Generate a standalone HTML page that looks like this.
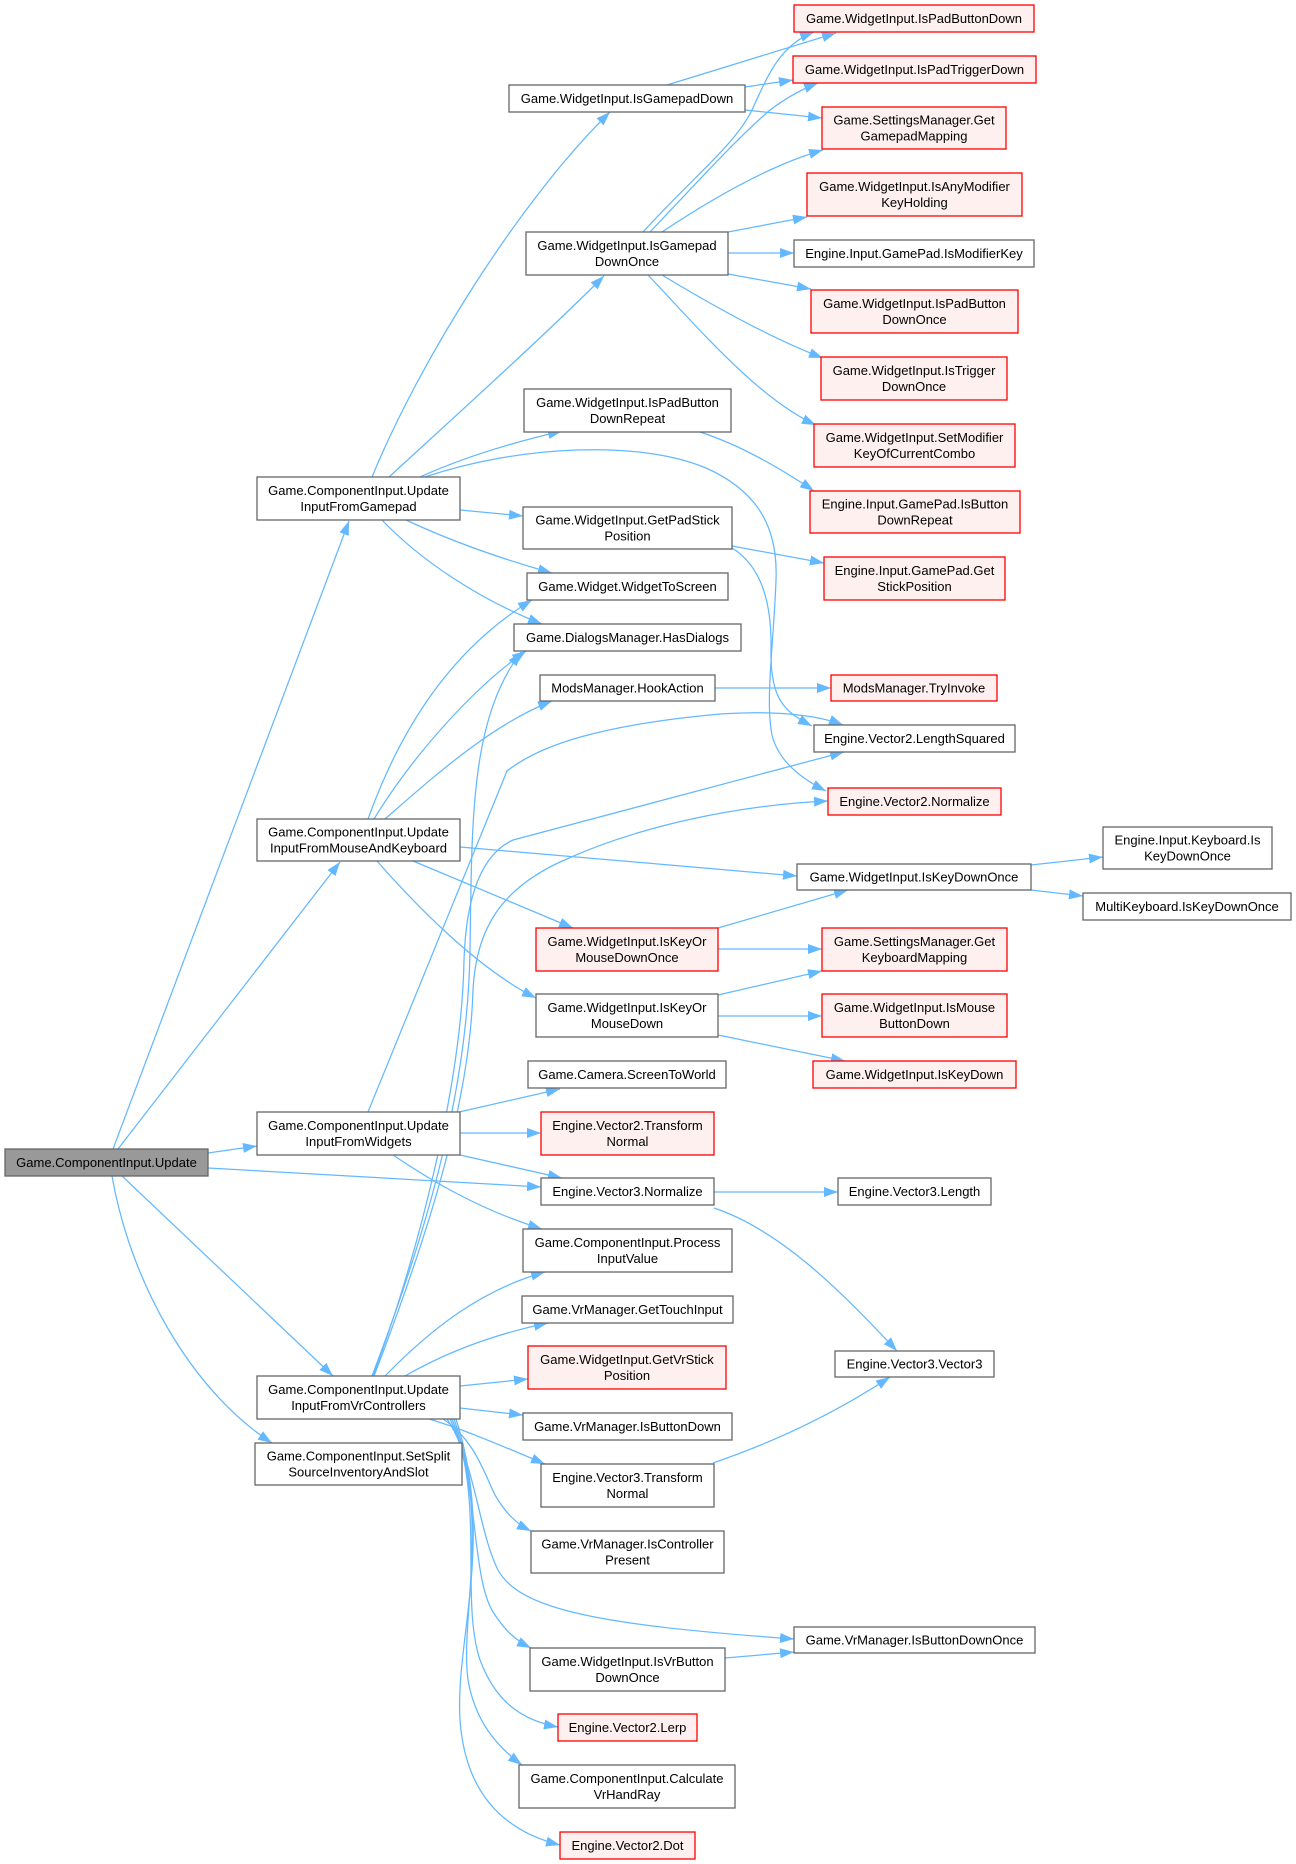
<!DOCTYPE html>
<html><head><meta charset="utf-8"><style>
html,body{margin:0;padding:0;background:#fff;}
svg{display:block;}
text{font-family:"Liberation Sans",Arial,sans-serif;font-size:13px;fill:#000;text-anchor:middle;}
.n{fill:#fff;stroke:#666;stroke-width:1.3;}
.r{fill:#fff0f0;stroke:#ff0000;stroke-width:1.3;}
.g{fill:#999;stroke:#666;stroke-width:1.3;}
.e{fill:none;stroke:#63b8ff;stroke-width:1.25;marker-end:url(#a);}
</style></head><body>
<svg width="1296" height="1864" viewBox="0 0 1296 1864" xmlns="http://www.w3.org/2000/svg">
<defs><marker id="a" markerUnits="userSpaceOnUse" markerWidth="15" markerHeight="11" refX="14" refY="5" orient="auto"><path d="M0,0 L14,5 L0,10 z" fill="#63b8ff"/></marker></defs>
<rect width="1296" height="1864" fill="#fff"/>
<g>
<path class="e" d="M113,1149 L349,521"/>
<path class="e" d="M118,1149 L340,862"/>
<path class="e" d="M208,1153 L257,1146"/>
<path class="e" d="M208,1168 L541,1187"/>
<path class="e" d="M122,1176 L333,1376"/>
<path class="e" d="M112,1176 C130,1280 190,1390 272,1443"/>
<path class="e" d="M372,477 C420,360 520,200 610,112"/>
<path class="e" d="M389,477 C440,430 540,340 604,276"/>
<path class="e" d="M420,477 Q480,450 562,431"/>
<path class="e" d="M425,477 C520,445 640,440 706,468 C760,492 778,530 776,580 C774,640 765,700 772,735 C778,760 800,778 826,791"/>
<path class="e" d="M460,510 L523,516"/>
<path class="e" d="M406,520 Q470,550 552,573"/>
<path class="e" d="M382,520 C420,560 480,600 542,624"/>
<path class="e" d="M368,819 C400,730 450,650 532,600"/>
<path class="e" d="M374,819 C410,760 470,690 526,651"/>
<path class="e" d="M385,819 C430,780 490,725 552,701"/>
<path class="e" d="M460,847 L797,876"/>
<path class="e" d="M413,861 L573,928"/>
<path class="e" d="M377,861 C420,910 480,970 536,998"/>
<path class="e" d="M368,1112 L507,771 C540,745 600,725 720,714 C780,710 820,716 843,725"/>
<path class="e" d="M459,1112 L560,1089"/>
<path class="e" d="M460,1133 L541,1133"/>
<path class="e" d="M460,1155 L562,1178"/>
<path class="e" d="M393,1155 C430,1180 480,1210 542,1229"/>
<path class="e" d="M372,1376 C420,1250 468,1100 470,950 C472,820 470,720 521,652"/>
<path class="e" d="M373,1376 C420,1250 462,1080 464,960 C466,900 480,855 513,840 L844,752"/>
<path class="e" d="M374,1376 C430,1230 470,1100 473,990 C476,930 500,890 560,862 C640,825 740,805 828,801"/>
<path class="e" d="M385,1376 C430,1330 480,1290 545,1272"/>
<path class="e" d="M405,1376 C450,1350 500,1333 548,1323"/>
<path class="e" d="M460,1386 L528,1379"/>
<path class="e" d="M460,1408 L523,1415"/>
<path class="e" d="M429,1419 C460,1428 500,1445 545,1464"/>
<path class="e" d="M443,1419 C475,1440 485,1475 495,1495 C505,1512 515,1523 531,1531"/>
<path class="e" d="M447,1419 C475,1460 478,1530 498,1570 C520,1610 600,1625 794,1639"/>
<path class="e" d="M450,1419 C480,1480 470,1580 495,1615 C505,1630 515,1640 531,1648"/>
<path class="e" d="M452,1419 C485,1500 460,1600 480,1660 C495,1700 520,1720 558,1727"/>
<path class="e" d="M454,1419 C490,1520 460,1620 468,1680 C475,1720 495,1745 522,1765"/>
<path class="e" d="M456,1419 C495,1540 455,1640 460,1720 C465,1790 500,1830 560,1845"/>
<path class="e" d="M667,85 L836,33"/>
<path class="e" d="M745,87 L793,80"/>
<path class="e" d="M745,110 L822,118"/>
<path class="e" d="M643,232 C690,180 735,145 752,110 C768,75 780,45 814,32"/>
<path class="e" d="M650,232 C690,190 735,140 770,110 C790,95 805,88 818,83"/>
<path class="e" d="M662,232 C710,200 770,165 823,150"/>
<path class="e" d="M728,232 L807,217"/>
<path class="e" d="M728,253 L794,253"/>
<path class="e" d="M728,274 L811,289"/>
<path class="e" d="M662,275 C720,310 775,340 823,358"/>
<path class="e" d="M648,275 C700,330 760,400 816,425"/>
<path class="e" d="M700,432 C740,445 780,468 814,491"/>
<path class="e" d="M732,546 L824,563"/>
<path class="e" d="M732,548 C760,565 772,600 771,650 C770,700 785,712 812,726"/>
<path class="e" d="M715,688 L831,688"/>
<path class="e" d="M718,928 L848,890"/>
<path class="e" d="M718,949 L822,949"/>
<path class="e" d="M718,995 L822,971"/>
<path class="e" d="M718,1016 L822,1016"/>
<path class="e" d="M718,1035 L845,1061"/>
<path class="e" d="M1031,865 L1103,857"/>
<path class="e" d="M1031,890 L1083,896"/>
<path class="e" d="M714,1192 L838,1192"/>
<path class="e" d="M714,1208 C780,1230 840,1290 897,1351"/>
<path class="e" d="M713,1463 C780,1440 840,1410 890,1377"/>
<path class="e" d="M725,1658 L794,1652"/>
</g>
<g>
<rect class="g" x="5" y="1149" width="203" height="27"/><text x="106.5" y="1167">Game.ComponentInput.Update</text>
<rect class="n" x="257" y="477" width="203" height="43"/><text x="358.5" y="495">Game.ComponentInput.Update</text><text x="358.5" y="511">InputFromGamepad</text>
<rect class="n" x="257" y="819" width="203" height="42"/><text x="358.5" y="836.5">Game.ComponentInput.Update</text><text x="358.5" y="852.5">InputFromMouseAndKeyboard</text>
<rect class="n" x="257" y="1112" width="203" height="43"/><text x="358.5" y="1130">Game.ComponentInput.Update</text><text x="358.5" y="1146">InputFromWidgets</text>
<rect class="n" x="257" y="1376" width="203" height="43"/><text x="358.5" y="1394">Game.ComponentInput.Update</text><text x="358.5" y="1410">InputFromVrControllers</text>
<rect class="n" x="255" y="1443" width="207" height="42"/><text x="358.5" y="1460.5">Game.ComponentInput.SetSplit</text><text x="358.5" y="1476.5">SourceInventoryAndSlot</text>
<rect class="n" x="509" y="85" width="236" height="27"/><text x="627" y="103">Game.WidgetInput.IsGamepadDown</text>
<rect class="n" x="526" y="232" width="202" height="43"/><text x="627" y="250">Game.WidgetInput.IsGamepad</text><text x="627" y="266">DownOnce</text>
<rect class="n" x="524" y="389" width="207" height="43"/><text x="627.5" y="407">Game.WidgetInput.IsPadButton</text><text x="627.5" y="423">DownRepeat</text>
<rect class="n" x="523" y="507" width="209" height="42"/><text x="627.5" y="524.5">Game.WidgetInput.GetPadStick</text><text x="627.5" y="540.5">Position</text>
<rect class="n" x="527" y="573" width="201" height="27"/><text x="627.5" y="591">Game.Widget.WidgetToScreen</text>
<rect class="n" x="514" y="624" width="227" height="27"/><text x="627.5" y="642">Game.DialogsManager.HasDialogs</text>
<rect class="n" x="540" y="675" width="175" height="26"/><text x="627.5" y="692.5">ModsManager.HookAction</text>
<rect class="r" x="536" y="928" width="182" height="43"/><text x="627" y="946">Game.WidgetInput.IsKeyOr</text><text x="627" y="962">MouseDownOnce</text>
<rect class="n" x="536" y="994" width="182" height="43"/><text x="627" y="1012">Game.WidgetInput.IsKeyOr</text><text x="627" y="1028">MouseDown</text>
<rect class="n" x="528" y="1061" width="198" height="27"/><text x="627" y="1079">Game.Camera.ScreenToWorld</text>
<rect class="r" x="541" y="1112" width="173" height="43"/><text x="627.5" y="1130">Engine.Vector2.Transform</text><text x="627.5" y="1146">Normal</text>
<rect class="n" x="541" y="1178" width="173" height="27"/><text x="627.5" y="1196">Engine.Vector3.Normalize</text>
<rect class="n" x="523" y="1229" width="209" height="43"/><text x="627.5" y="1247">Game.ComponentInput.Process</text><text x="627.5" y="1263">InputValue</text>
<rect class="n" x="522" y="1296" width="211" height="27"/><text x="627.5" y="1314">Game.VrManager.GetTouchInput</text>
<rect class="r" x="528" y="1346" width="198" height="43"/><text x="627" y="1364">Game.WidgetInput.GetVrStick</text><text x="627" y="1380">Position</text>
<rect class="n" x="523" y="1413" width="209" height="27"/><text x="627.5" y="1431">Game.VrManager.IsButtonDown</text>
<rect class="n" x="541" y="1464" width="173" height="43"/><text x="627.5" y="1482">Engine.Vector3.Transform</text><text x="627.5" y="1498">Normal</text>
<rect class="n" x="531" y="1531" width="193" height="42"/><text x="627.5" y="1548.5">Game.VrManager.IsController</text><text x="627.5" y="1564.5">Present</text>
<rect class="n" x="530" y="1648" width="195" height="43"/><text x="627.5" y="1666">Game.WidgetInput.IsVrButton</text><text x="627.5" y="1682">DownOnce</text>
<rect class="r" x="558" y="1714" width="139" height="27"/><text x="627.5" y="1732">Engine.Vector2.Lerp</text>
<rect class="n" x="519" y="1765" width="216" height="43"/><text x="627" y="1783">Game.ComponentInput.Calculate</text><text x="627" y="1799">VrHandRay</text>
<rect class="r" x="560" y="1832" width="135" height="27"/><text x="627.5" y="1850">Engine.Vector2.Dot</text>
<rect class="r" x="794" y="5" width="240" height="27"/><text x="914" y="23">Game.WidgetInput.IsPadButtonDown</text>
<rect class="r" x="793" y="56" width="243" height="27"/><text x="914.5" y="74">Game.WidgetInput.IsPadTriggerDown</text>
<rect class="r" x="822" y="107" width="184" height="42"/><text x="914" y="124.5">Game.SettingsManager.Get</text><text x="914" y="140.5">GamepadMapping</text>
<rect class="r" x="807" y="173" width="215" height="43"/><text x="914.5" y="191">Game.WidgetInput.IsAnyModifier</text><text x="914.5" y="207">KeyHolding</text>
<rect class="n" x="794" y="240" width="240" height="27"/><text x="914" y="258">Engine.Input.GamePad.IsModifierKey</text>
<rect class="r" x="811" y="290" width="207" height="43"/><text x="914.5" y="308">Game.WidgetInput.IsPadButton</text><text x="914.5" y="324">DownOnce</text>
<rect class="r" x="821" y="357" width="186" height="43"/><text x="914" y="375">Game.WidgetInput.IsTrigger</text><text x="914" y="391">DownOnce</text>
<rect class="r" x="814" y="424" width="201" height="43"/><text x="914.5" y="442">Game.WidgetInput.SetModifier</text><text x="914.5" y="458">KeyOfCurrentCombo</text>
<rect class="r" x="810" y="491" width="210" height="42"/><text x="915" y="508.5">Engine.Input.GamePad.IsButton</text><text x="915" y="524.5">DownRepeat</text>
<rect class="r" x="824" y="557" width="181" height="43"/><text x="914.5" y="575">Engine.Input.GamePad.Get</text><text x="914.5" y="591">StickPosition</text>
<rect class="r" x="831" y="675" width="166" height="26"/><text x="914" y="692.5">ModsManager.TryInvoke</text>
<rect class="n" x="814" y="725" width="201" height="27"/><text x="914.5" y="743">Engine.Vector2.LengthSquared</text>
<rect class="r" x="828" y="788" width="173" height="27"/><text x="914.5" y="806">Engine.Vector2.Normalize</text>
<rect class="n" x="797" y="864" width="234" height="26"/><text x="914" y="881.5">Game.WidgetInput.IsKeyDownOnce</text>
<rect class="r" x="822" y="928" width="185" height="43"/><text x="914.5" y="946">Game.SettingsManager.Get</text><text x="914.5" y="962">KeyboardMapping</text>
<rect class="r" x="822" y="994" width="185" height="43"/><text x="914.5" y="1012">Game.WidgetInput.IsMouse</text><text x="914.5" y="1028">ButtonDown</text>
<rect class="r" x="813" y="1061" width="203" height="27"/><text x="914.5" y="1079">Game.WidgetInput.IsKeyDown</text>
<rect class="n" x="838" y="1178" width="153" height="27"/><text x="914.5" y="1196">Engine.Vector3.Length</text>
<rect class="n" x="835" y="1351" width="159" height="26"/><text x="914.5" y="1368.5">Engine.Vector3.Vector3</text>
<rect class="n" x="794" y="1627" width="241" height="26"/><text x="914.5" y="1644.5">Game.VrManager.IsButtonDownOnce</text>
<rect class="n" x="1103" y="827" width="169" height="42"/><text x="1187.5" y="844.5">Engine.Input.Keyboard.Is</text><text x="1187.5" y="860.5">KeyDownOnce</text>
<rect class="n" x="1083" y="893" width="208" height="27"/><text x="1187" y="911">MultiKeyboard.IsKeyDownOnce</text>
</g>
</svg>
</body></html>
